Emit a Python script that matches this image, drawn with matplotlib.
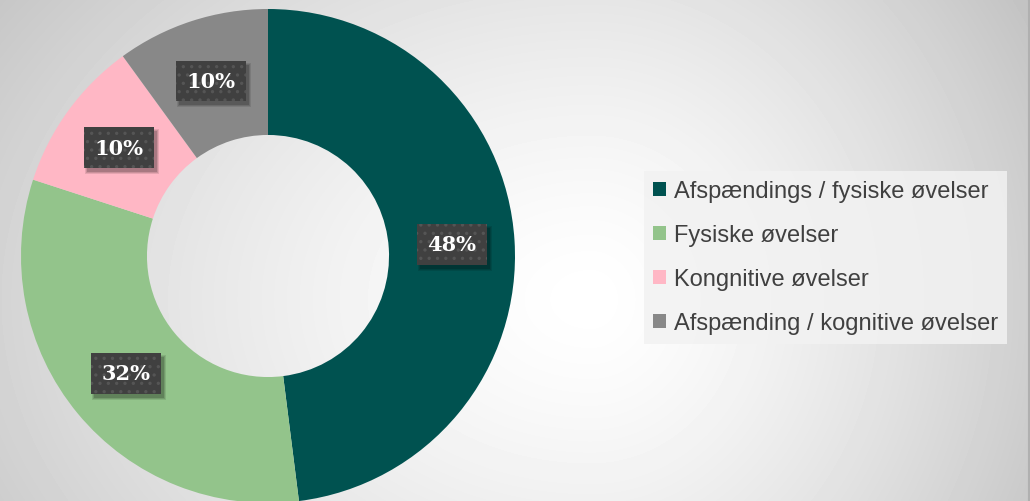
import numpy as np
import matplotlib.pyplot as plt
from matplotlib.patches import Rectangle

categories = ['Afspændings / fysiske øvelser', 'Fysiske øvelser',
              'Kongnitive øvelser', 'Afspænding / kognitive øvelser']
shares = [48, 32, 10, 10]
colors = ['#005250', '#93C48B', '#FFB7C5', '#888888']

plt.rcParams['hatch.linewidth'] = 1.2

fig = plt.figure(figsize=(10.3, 5.02), dpi=100)

# grey background, light in the middle
bg = fig.add_axes([0, 0, 1, 1])
yy, xx = np.mgrid[0:502, 0:1030]
sx = np.where(xx > 590, 520.0, 760.0)
d = np.sqrt(((xx - 590) / sx) ** 2 + ((yy - 300) / 560.0) ** 2)
shade = 1.0 - 0.24 * d ** 1.4
bg.imshow(shade, cmap='gray', vmin=0, vmax=1, aspect='auto', interpolation='bilinear')
bg.axvline(1028, color='#b0b0b0', lw=1.5)
bg.axis('off')

ax = fig.add_axes([21 / 1030, -2 / 502, 494 / 1030, 494 / 502])
wedges, texts, autotexts = ax.pie(
    shares, colors=colors, startangle=90, counterclock=False,
    radius=1, wedgeprops=dict(width=0.51, edgecolor='none'),
    autopct='%d%%', pctdistance=0.745)
ax.set_xlim(-1, 1)
ax.set_ylim(-1, 1)
ax.set_aspect('equal')

for t in autotexts:
    t.set_color('white')
    t.set_fontfamily('DejaVu Serif')
    t.set_fontweight('bold')
    t.set_fontsize(15)
    t.set_zorder(5)
    t.set_bbox(dict(boxstyle='square,pad=0.5', facecolor='#404040',
                    edgecolor='#555555', hatch='..', linewidth=0))

leg = fig.legend(wedges, categories, loc='upper left',
                 bbox_to_anchor=(644 / 1030, 1 - 172 / 502),
                 prop={'family': 'Liberation Sans', 'size': 17},
                 labelcolor='#404040', frameon=True, fancybox=False,
                 handlelength=0.55, handleheight=0.55, handletextpad=0.3,
                 labelspacing=0.93, borderpad=0.4, borderaxespad=0)
leg.get_frame().set_facecolor('#f2f2f2')
leg.get_frame().set_alpha(0.85)
leg.get_frame().set_edgecolor('none')

# soft drop shadows behind the label boxes
fig.canvas.draw()
inv = ax.transData.inverted()
for t in autotexts:
    ext = t.get_bbox_patch().get_window_extent()
    for k, a in enumerate([0.10, 0.12, 0.16]):
        grow = 2 - k
        (x0, y0), (x1, y1) = inv.transform([[ext.x0 + 3 - grow, ext.y0 - 4 - grow],
                                            [ext.x1 + 3 + grow, ext.y1 - 4 + grow]])
        ax.add_patch(Rectangle((x0, y0), x1 - x0, y1 - y0, facecolor='black',
                               alpha=a, linewidth=0, zorder=4))

fig.savefig('out.png', dpi=100)
